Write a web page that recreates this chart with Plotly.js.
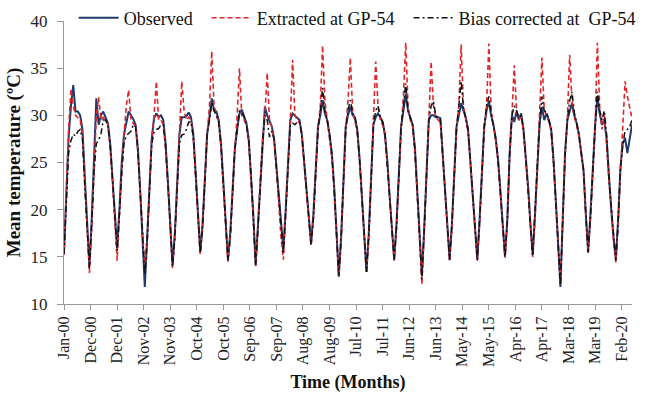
<!DOCTYPE html>
<html>
<head>
<meta charset="utf-8">
<script src="https://cdn.plot.ly/plotly-3.0.1.min.js"></script>
<style>html,body{margin:0;padding:0;background:#fff;}#chart{width:659px;height:397px;}</style>
</head>
<body>
<div id="chart"></div>
<script>
// Monthly series, Jan-2000 ... Jul-2020 (one row per year)
const observed = [
  15.5, 21.5, 27.7, 31.0, 33.2, 30.4, 30.4, 30.0, 28.5, 23.5, 18.5, 14.0,
  19.0, 25.5, 31.8, 29.0, 30.0, 30.4, 29.8, 29.2, 27.0, 23.5, 19.5, 16.0,
  20.0, 25.0, 28.0, 29.3, 30.4, 30.0, 29.6, 29.0, 26.5, 22.0, 17.0, 11.8,
  17.0, 23.0, 27.5, 29.7, 30.2, 29.8, 30.0, 29.5, 27.0, 23.0, 18.5, 14.1,
  17.5, 23.0, 28.0, 29.8, 29.8, 29.9, 30.3, 29.8, 28.0, 24.0, 19.5, 15.5,
  18.5, 24.0, 28.0, 29.8, 31.8, 30.5, 30.4, 29.5, 27.0, 23.0, 18.5, 14.7,
  17.5, 22.5, 26.5, 28.5, 30.2, 30.6, 30.0, 29.2, 27.5, 24.0, 19.5, 14.1,
  18.5, 23.5, 27.5, 30.9, 30.0, 29.3, 28.8, 27.5, 24.5, 21.0, 18.0, 15.8,
  20.0, 25.5, 29.5, 30.2, 30.0, 29.8, 29.5, 28.0, 25.0, 21.5, 18.5, 16.4,
  19.5, 24.5, 28.8, 30.0, 31.6, 30.2, 29.5, 28.0, 26.0, 22.5, 17.5, 12.9,
  17.0, 23.0, 28.8, 30.0, 30.9, 30.0, 29.8, 28.5, 25.5, 21.5, 17.0, 13.4,
  17.5, 24.0, 29.0, 29.8, 30.2, 29.8, 29.3, 28.0, 25.3, 21.5, 18.0, 14.7,
  18.5, 24.0, 28.8, 30.5, 32.3, 30.5, 29.8, 29.0, 26.5, 22.0, 17.0, 13.0,
  18.0, 24.5, 29.5, 30.0, 30.0, 29.8, 29.8, 29.7, 26.0, 22.0, 18.0, 14.7,
  18.5, 24.0, 28.8, 30.0, 31.3, 30.5, 29.8, 28.5, 25.3, 22.0, 18.5, 14.7,
  19.0, 24.5, 28.8, 30.5, 31.5, 30.0, 29.0, 27.5, 25.3, 22.0, 18.5, 15.0,
  19.0, 26.0, 30.0, 29.3, 30.4, 29.5, 30.2, 28.5, 25.5, 22.5, 18.5, 15.2,
  19.5, 25.0, 29.2, 30.9, 29.5, 30.2, 29.5, 28.5, 25.3, 21.0, 16.5, 11.8,
  19.0, 26.0, 29.5, 30.5, 31.3, 30.0, 29.2, 28.0, 26.0, 24.2, 19.5, 15.5,
  19.5, 25.0, 28.8, 32.0, 30.2, 29.0, 29.5, 27.5, 23.3, 20.0, 17.0, 14.7,
  19.0, 24.5, 27.0, 27.6, 26.0, 27.5, 29.0
];
const extracted = [
  15.2, 22.5, 28.5, 32.8, 31.0, 30.0, 29.8, 29.5, 28.0, 23.0, 17.5, 13.3,
  18.0, 24.5, 30.0, 31.9, 29.5, 29.8, 29.5, 29.0, 26.5, 23.0, 18.5, 14.6,
  19.5, 24.5, 28.0, 31.0, 32.7, 29.5, 29.2, 28.8, 26.0, 21.5, 17.0, 13.8,
  16.5, 22.5, 27.5, 30.0, 33.6, 29.5, 29.5, 29.0, 26.5, 22.5, 18.0, 13.8,
  17.0, 22.5, 28.0, 33.6, 30.5, 29.5, 29.8, 29.5, 27.5, 23.5, 19.0, 15.3,
  18.0, 23.5, 28.0, 31.0, 36.8, 31.0, 30.0, 29.2, 26.5, 22.5, 18.0, 14.5,
  17.0, 22.0, 26.5, 30.0, 35.0, 30.0, 29.5, 29.0, 27.0, 23.5, 19.0, 14.0,
  18.0, 23.0, 27.5, 30.0, 34.5, 29.5, 28.8, 27.3, 24.3, 20.5, 17.0, 14.7,
  19.5, 25.0, 29.5, 35.9, 30.0, 29.5, 29.2, 27.8, 24.8, 21.3, 18.3, 16.2,
  19.0, 24.0, 28.5, 31.0, 37.4, 31.5, 29.5, 27.8, 25.5, 22.0, 17.0, 13.0,
  16.5, 22.5, 28.5, 31.5, 36.1, 30.5, 29.5, 28.2, 25.2, 21.2, 16.8, 13.3,
  17.0, 23.5, 29.0, 35.7, 31.0, 29.5, 29.0, 27.8, 25.0, 21.3, 17.8, 14.6,
  18.0, 23.5, 28.5, 32.0, 37.7, 31.0, 29.5, 28.8, 26.0, 21.5, 16.5, 12.1,
  17.5, 24.0, 29.5, 35.7, 31.0, 29.8, 29.5, 29.3, 25.8, 21.8, 17.8, 14.6,
  18.0, 23.5, 28.5, 31.0, 37.5, 31.0, 29.5, 28.2, 25.0, 21.8, 18.3, 14.6,
  18.5, 24.0, 28.5, 31.0, 37.6, 30.5, 29.0, 27.3, 25.0, 21.8, 18.3, 14.9,
  18.5, 25.5, 30.0, 35.3, 30.5, 29.5, 30.0, 28.2, 25.2, 22.3, 18.3, 15.0,
  19.0, 24.5, 29.0, 36.1, 30.5, 30.0, 29.3, 28.3, 25.0, 20.8, 16.5, 12.3,
  18.5, 25.5, 29.5, 36.4, 31.5, 29.8, 29.0, 27.8, 25.8, 24.0, 19.3, 15.4,
  19.0, 24.5, 28.5, 37.7, 31.0, 28.5, 30.0, 27.0, 23.0, 20.5, 16.5, 14.4,
  18.5, 24.0, 29.5, 33.6, 32.0, 30.8, 29.7
];
const biasCorrected = [
  15.3, 21.0, 26.0, 27.3, 28.0, 27.8, 28.3, 28.5, 27.5, 22.5, 18.0, 13.8,
  18.5, 24.0, 27.0, 27.4, 28.0, 29.5, 29.5, 29.0, 27.0, 23.5, 19.5, 15.6,
  19.5, 24.0, 27.0, 27.8, 28.1, 28.3, 29.0, 28.8, 26.2, 21.8, 17.0, 13.2,
  16.5, 22.5, 27.0, 28.2, 28.5, 28.6, 29.0, 29.0, 26.8, 22.8, 18.5, 14.0,
  17.0, 22.5, 27.0, 27.9, 28.0, 28.5, 29.3, 29.3, 27.8, 23.8, 19.3, 15.4,
  18.0, 23.5, 28.0, 29.5, 31.3, 30.5, 30.0, 29.3, 26.8, 22.8, 18.3, 14.6,
  17.0, 22.0, 26.5, 28.5, 30.5, 30.3, 29.8, 29.0, 27.3, 23.8, 19.3, 14.1,
  18.0, 23.0, 27.0, 30.0, 29.5, 27.7, 28.3, 27.5, 24.5, 21.0, 17.8, 15.3,
  19.5, 25.0, 29.0, 29.2, 29.0, 29.3, 29.3, 28.0, 25.0, 21.5, 18.5, 16.3,
  19.0, 24.0, 28.5, 30.5, 32.9, 30.5, 29.5, 28.0, 25.8, 22.3, 17.3, 13.0,
  16.8, 22.8, 28.5, 30.5, 31.6, 30.3, 29.8, 28.4, 25.4, 21.4, 17.0, 13.4,
  17.3, 23.8, 29.0, 30.5, 31.0, 29.8, 29.3, 28.0, 25.2, 21.5, 18.0, 14.7,
  18.2, 23.8, 28.8, 31.0, 33.4, 30.5, 29.8, 29.0, 26.3, 21.8, 16.8, 12.6,
  17.8, 24.3, 29.5, 31.0, 31.5, 30.0, 29.8, 29.5, 25.9, 21.9, 18.0, 14.7,
  18.3, 23.8, 28.8, 31.0, 33.6, 30.8, 29.8, 28.5, 25.2, 22.0, 18.5, 14.7,
  18.8, 24.3, 28.8, 31.0, 32.0, 30.2, 29.0, 27.5, 25.2, 22.0, 18.5, 15.0,
  18.8, 25.8, 30.0, 31.0, 30.5, 29.8, 30.0, 28.5, 25.4, 22.4, 18.5, 15.1,
  19.3, 24.8, 29.2, 32.0, 30.5, 30.3, 29.5, 28.5, 25.2, 21.0, 16.5, 12.0,
  18.8, 25.8, 29.5, 31.5, 32.5, 30.3, 29.2, 28.0, 26.0, 24.2, 19.5, 15.5,
  19.3, 24.8, 28.8, 32.5, 30.5, 29.5, 30.5, 28.0, 23.3, 20.3, 17.0, 14.6,
  18.8, 24.3, 27.0, 28.3, 28.5, 28.8, 29.5
];
// Category axis labels (one every 11.5 months, as in the source chart)
const tickLabels = ["Jan-00","Dec-00","Dec-01","Nov-02","Nov-03","Oct-04","Oct-05","Sep-06","Sep-07","Aug-08","Aug-09","Jul-10","Jul-11","Jun-12","Jun-13","May-14","May-15","Apr-16","Apr-17","Mar-18","Mar-19","Feb-20"];
const labelStep = 11.5; // months between labels

const months = observed.map((_, i) => i); // month index since Jan-2000
const tickVals = tickLabels.map((_, k) => k * labelStep);

const serif = "Liberation Serif, Times New Roman, serif";
const nb = "\u00a0";

const traces = [
  {x: months, y: observed, type: "scatter", mode: "lines", name: "Observed" + nb.repeat(2),
   line: {color: "#1f3a6b", width: 2}},
  {x: months, y: extracted, type: "scatter", mode: "lines", name: "Extracted at GP-54" + nb.repeat(2),
   line: {color: "#e0262b", width: 1.6, dash: "5px,3px"}},
  {x: months, y: biasCorrected, type: "scatter", mode: "lines", name: "Bias corrected at" + nb + nb + "GP-54",
   line: {color: "#111111", width: 1.5, dash: "6px,3px,2px,3px"}}
];

const layout = {
  width: 659, height: 397,
  margin: {l: 64, r: 27, t: 21, b: 93, autoexpand: false},
  paper_bgcolor: "#fff", plot_bgcolor: "#fff",
  font: {family: serif, color: "#222"},
  showlegend: true,
  legend: {orientation: "h", x: 0.017, xanchor: "left", y: 1.0106, yanchor: "middle", itemwidth: 40,
           font: {family: serif, size: 18, color: "#111"}, bgcolor: "rgba(0,0,0,0)", traceorder: "normal"},
  xaxis: {range: [0, 246], tickmode: "array", tickvals: tickVals, ticktext: tickLabels,
          tickangle: -90, ticks: "outside", ticklen: 5, tickcolor: "#999",
          showline: true, linecolor: "#999", linewidth: 1, showgrid: false, zeroline: false,
          tickfont: {family: serif, size: 16, color: "#222"},
          title: {text: "<b>Time (Months)</b>", font: {family: serif, size: 18, color: "#111"}, standoff: 9}},
  yaxis: {range: [10, 40], dtick: 5, tick0: 10, ticks: "outside", ticklen: 6, tickcolor: "#999",
          ticklabelstandoff: 6,
          showline: true, linecolor: "#999", linewidth: 1, showgrid: false, zeroline: false,
          tickfont: {family: serif, size: 17, color: "#222"},
          title: {text: "<b>Mean temperature (ºC)</b>", font: {family: serif, size: 19, color: "#111"}, standoff: 4}}
};

Plotly.newPlot("chart", traces, layout, {displayModeBar: false, staticPlot: true});
</script>
</body>
</html>
